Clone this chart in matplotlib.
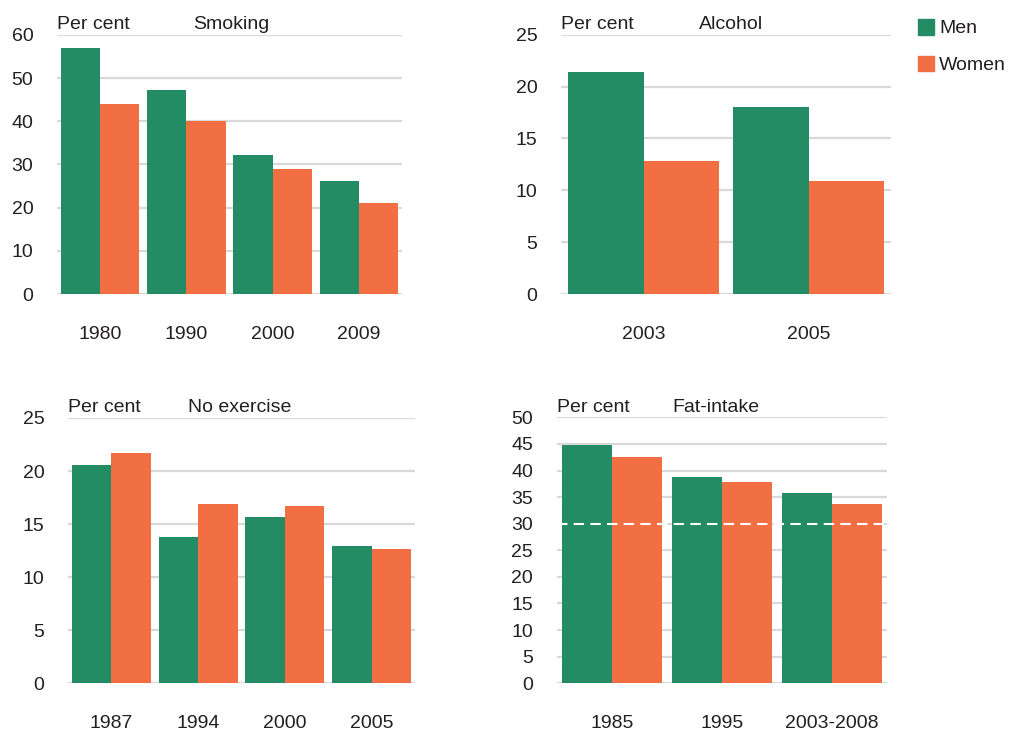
import numpy as np
import matplotlib
matplotlib.use('Agg')
import matplotlib.pyplot as plt
from matplotlib.patches import Patch

plt.rcParams['font.family'] = ['Liberation Sans Narrow', 'Liberation Sans', 'DejaVu Sans']

VERDE = '#238C64'
NARANJA = '#F26F43'
GRIS = '#D9D9D9'
TEXTO = '#231F20'

# datos
anios_fumar = ['1980', '1990', '2000', '2009']
fumar_hombres = [57, 47.2, 32.1, 26.1]
fumar_mujeres = [44, 40, 28.9, 21]

anios_alcohol = ['2003', '2005']
alcohol_hombres = [21.4, 18]
alcohol_mujeres = [12.8, 10.9]

anios_ejercicio = ['1987', '1994', '2000', '2005']
ejercicio_hombres = [20.6, 13.8, 15.7, 12.9]
ejercicio_mujeres = [21.7, 16.9, 16.7, 12.7]

anios_grasa = ['1985', '1995', '2003-2008']
grasa_hombres = [44.8, 38.8, 35.8]
grasa_mujeres = [42.5, 37.8, 33.7]
limite_grasa = 30

fig = plt.figure(figsize=(10.14, 7.31), dpi=100)


def panel(pos, cats, hombres, mujeres, ymax, paso, titulo, dx_titulo):
    ax = fig.add_axes(pos)
    x = np.arange(len(cats))
    ancho = 0.455
    ax.bar(x - ancho / 2, hombres, ancho, color=VERDE, zorder=2)
    ax.bar(x + ancho / 2, mujeres, ancho, color=NARANJA, zorder=2)
    ax.set_xlim(-0.5, len(cats) - 0.5)
    ax.set_ylim(0, ymax)
    ax.set_yticks(np.arange(0, ymax + 0.1, paso))
    ax.set_xticks(x)
    ax.set_xticklabels(cats)
    ax.yaxis.grid(True, color=GRIS, linewidth=1.6)
    ax.set_axisbelow(True)
    for s in ax.spines.values():
        s.set_visible(False)
    ax.tick_params(axis='y', length=0, pad=17, labelsize=14, labelcolor=TEXTO)
    ax.tick_params(axis='x', length=0, pad=23, labelsize=14, labelcolor=TEXTO)
    ax.annotate('Per cent', xy=(0, 1), xycoords='axes fraction',
                xytext=(0, 4), textcoords='offset points',
                fontsize=14, color=TEXTO, va='baseline', ha='left')
    ax.annotate(titulo, xy=(0, 1), xycoords='axes fraction',
                xytext=(dx_titulo * 0.72, 4), textcoords='offset points',
                fontsize=14, color=TEXTO, va='baseline', ha='left')
    return ax


panel([0.0562, 0.5978, 0.3402, 0.3544], anios_fumar, fumar_hombres, fumar_mujeres,
      60, 10, 'Smoking', 136)
panel([0.5533, 0.5978, 0.3254, 0.3547], anios_alcohol, alcohol_hombres, alcohol_mujeres,
      25, 5, 'Alcohol', 138)
panel([0.0671, 0.0653, 0.3422, 0.3629], anios_ejercicio, ejercicio_hombres, ejercicio_mujeres,
      25, 5, 'No exercise', 120)
ax4 = panel([0.5490, 0.0653, 0.3255, 0.3638], anios_grasa, grasa_hombres, grasa_mujeres,
            50, 5, 'Fat-intake', 116)
ax4.axhline(limite_grasa, color='white', linewidth=1.5, linestyle=(0, (5, 3)), zorder=3)

manijas = [Patch(color=VERDE), Patch(color=NARANJA)]
fig.legend(manijas, ['Men', 'Women'], loc='upper left',
           bbox_to_anchor=(0.905, 0.974), frameon=False, fontsize=14,
           handlelength=0.85, handleheight=0.85, handletextpad=0.25,
           labelspacing=0.95, borderpad=0, borderaxespad=0, labelcolor=TEXTO)

fig.savefig('out.png', dpi=100)
